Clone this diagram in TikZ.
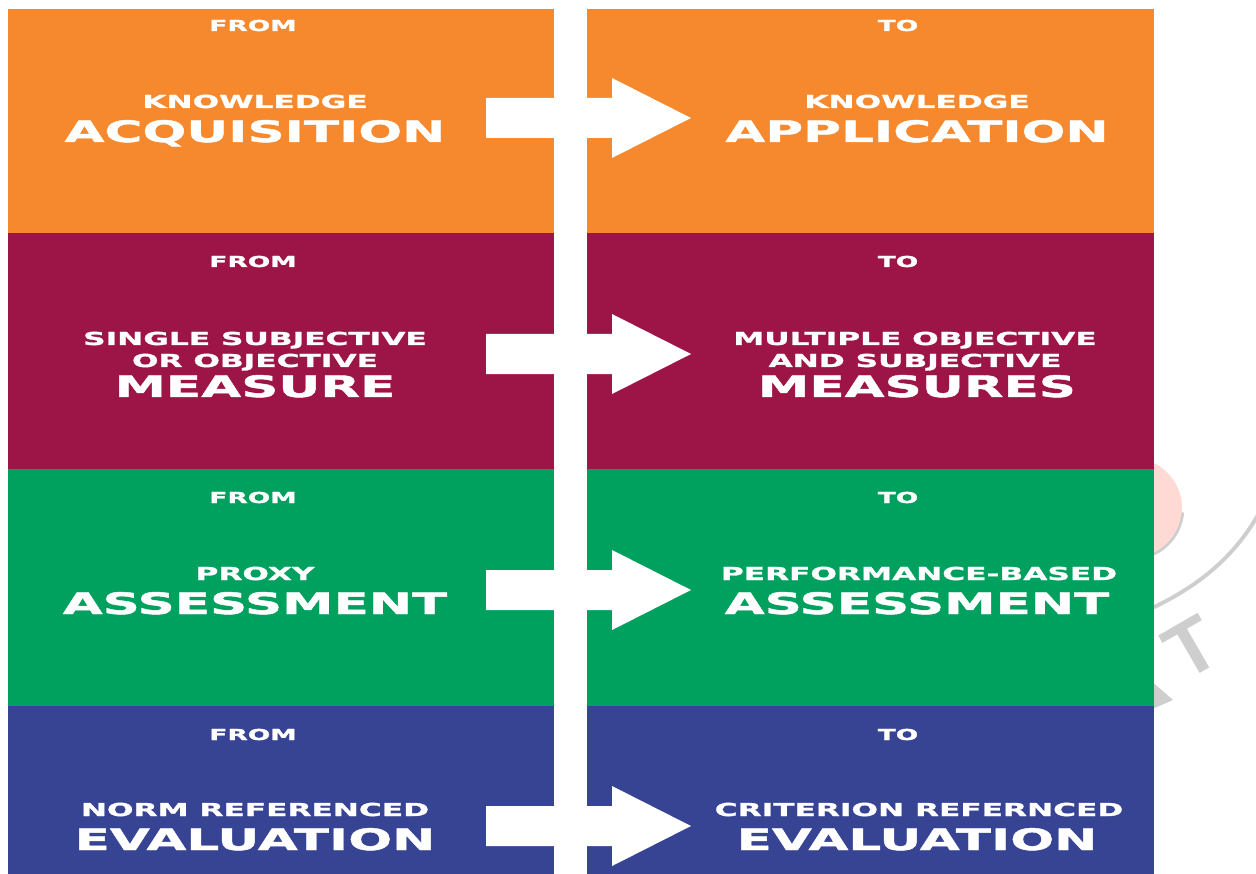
\documentclass[tikz,border=0pt]{standalone}
\usepackage{fontspec}
\usepackage{xcolor}
\newfontfamily\widefont[FakeStretch=1.75, FakeBold=1.5]{DejaVu Sans Bold}
\newfontfamily\markfont{Liberation Sans}
\definecolor{orangerow}{RGB}{246,137,45}
\definecolor{maroonrow}{RGB}{157,20,71}
\definecolor{greenrow}{RGB}{0,160,94}
\definecolor{bluerow}{RGB}{55,68,148}
\definecolor{markpink}{RGB}{255,218,212}
\definecolor{markgray}{RGB}{206,206,206}

\begin{document}
\begin{tikzpicture}[x=0.02cm, y=-0.02cm,
  head/.style={text=white, inner sep=0, anchor=base, font=\widefont\fontsize{8.6}{10}\selectfont},
  small/.style={text=white, inner sep=0, anchor=base, font=\widefont\fontsize{10.15}{12}\selectfont},
  big/.style={text=white, inner sep=0, anchor=base, font=\widefont\fontsize{16.8}{20}\selectfont}]
\useasboundingbox (0,0) rectangle (1256,874);
\fill [white] (0,0) rectangle (1256,874);

% watermark behind the boxes
\fill [markpink] (1132,508) circle (50);
\draw [markgray, line width=1.5pt] (1132,508) ++(5:51) arc (5:65:51);
\draw [markgray, line width=2.2pt] (1150,609) .. controls (1195,588) and (1232,560) .. (1258,515);
\node [text=markgray, rotate=30, inner sep=0, font=\markfont\bfseries\fontsize{44}{48}\selectfont] (markT) at (1192,648) {T};
\fill [markgray] (1150,680) -- (1173,700) -- (1150,710) -- cycle;

% colour rows
\fill [orangerow] (8,9) rectangle (554,233);
\fill [orangerow] (587,9) rectangle (1154,233);
\fill [maroonrow] (8,233) rectangle (554,469);
\fill [maroonrow] (587,233) rectangle (1154,469);
\fill [greenrow] (8,469) rectangle (554,706);
\fill [greenrow] (587,469) rectangle (1154,706);
\fill [bluerow] (8,706) rectangle (554,874);
\fill [bluerow] (587,706) rectangle (1154,874);

% block arrows
\foreach \cy in {118,354,590,826}
  \fill [white] (486,\cy-20) -- (612,\cy-20) -- (612,\cy-40) -- (691,\cy)
    -- (612,\cy+40) -- (612,\cy+20) -- (486,\cy+20) -- cycle;

% row 1
\node [head] (from1) at (253,31) {FROM};
\node [head] (to1) at (898,31) {TO};
\node [small] (left1a) at (255,108) {KNOWLEDGE};
\node [big] (left1b) at (255,142) {ACQUISITION};
\node [small] (right1a) at (917,108) {KNOWLEDGE};
\node [big] (right1b) at (917,142) {APPLICATION};

% row 2
\node [head] (from2) at (253,267) {FROM};
\node [head] (to2) at (898,267) {TO};
\node [small] (left2a) at (255,345) {SINGLE SUBJECTIVE};
\node [small] (left2b) at (255,367) {OR OBJECTIVE};
\node [big] (left2c) at (255,397) {MEASURE};
\node [small] (right2a) at (915,345) {MULTIPLE OBJECTIVE};
\node [small] (right2b) at (915,367) {AND SUBJECTIVE};
\node [big] (right2c) at (917,397) {MEASURES};

% row 3
\node [head] (from3) at (253,503) {FROM};
\node [head] (to3) at (898,503) {TO};
\node [small] (left3a) at (255,580) {PROXY};
\node [big] (left3b) at (255,614) {ASSESSMENT};
\node [small] (right3a) at (919,580) {PERFORMANCE-BASED};
\node [big] (right3b) at (917,614) {ASSESSMENT};

% row 4
\node [head] (from4) at (253,740) {FROM};
\node [head] (to4) at (898,740) {TO};
\node [small] (left4a) at (255,816) {NORM REFERENCED};
\node [big] (left4b) at (255,850) {EVALUATION};
\node [small] (right4a) at (919,816) {CRITERION REFERNCED};
\node [big] (right4b) at (917,850) {EVALUATION};
\end{tikzpicture}
\end{document}
